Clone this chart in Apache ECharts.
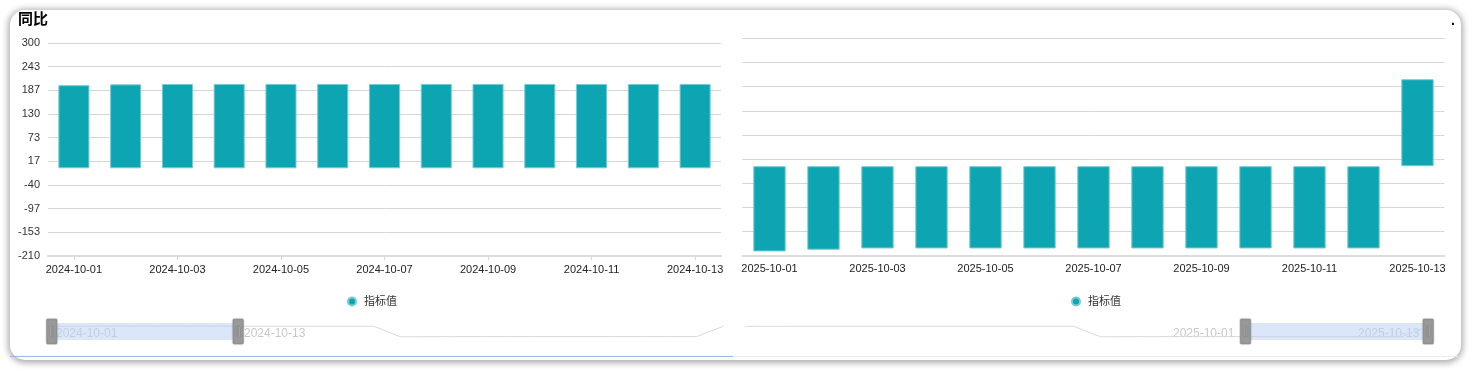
<!DOCTYPE html>
<html>
<head>
<meta charset="utf-8">
<script src="https://cdn.jsdelivr.net/npm/echarts/dist/echarts.min.js"></script>
<style>
  html, body { margin: 0; padding: 0; background: #fff; }
  body { width: 1474px; height: 371px; position: relative; overflow: hidden; }
  #card { position: absolute; left: 10px; top: 10px; width: 1451px; height: 350px; border-radius: 15px;
          background: #fff; box-shadow: 0 1px 6px 2px rgba(0,0,0,0.32); }
  #lineL { position: absolute; left: 10px; top: 356px; width: 723px; height: 1px; background: #9db6ea; }
  #lineR { position: absolute; left: 733px; top: 356px; width: 725px; height: 1px; background: #eeeeee; }
  #main { position: absolute; left: 0; top: 0; width: 1474px; height: 371px; }
</style>
</head>
<body>
<div id="card"></div>
<div id="lineL"></div>
<div id="lineR"></div>
<div id="main"></div>
<script>
// ---- data ----
const titleText = '同比';
const seriesName = '指标值';
const dates2024 = ['2024-10-01','2024-10-02','2024-10-03','2024-10-04','2024-10-05','2024-10-06','2024-10-07',
                   '2024-10-08','2024-10-09','2024-10-10','2024-10-11','2024-10-12','2024-10-13'];
const values2024 = [199, 201, 202, 202, 202, 202, 202, 202, 202, 202, 202, 202, 202];
const dates2025 = ['2025-10-01','2025-10-02','2025-10-03','2025-10-04','2025-10-05','2025-10-06','2025-10-07',
                   '2025-10-08','2025-10-09','2025-10-10','2025-10-11','2025-10-12','2025-10-13'];
const values2025 = [-200, -196, -193, -193, -193, -193, -193, -193, -193, -193, -193, -193, 204];
const yMin = -210;
const yMax = 300;
const ySplits = 9;

// combined timeline used by the zoom sliders' data shadow
const allDates = dates2024.concat(dates2025);
const allValues = values2024.concat(values2025);

const FONT = "'Liberation Sans', 'Noto Sans CJK SC', sans-serif";
const TEAL = '#0ea5b2';
const chart = echarts.init(document.getElementById('main'), null, { renderer: 'canvas' });

const handlePath = 'path://M1,0H9Q10,0 10,1V23Q10,24 9,24H1Q0,24 0,23V1Q0,0 1,0Z' +
                   'M3.4,7V17H4.3V7Z M5.7,7V17H6.6V7Z';

function yAxis(grid, showLabel) {
  return {
    type: 'value', gridIndex: grid, min: yMin, max: yMax, interval: (yMax - yMin) / ySplits,
    axisLine: { show: false }, axisTick: { show: false },
    axisLabel: { show: showLabel, color: '#333', fontSize: 11, fontFamily: FONT, margin: 8,
                 formatter: v => String(Math.round(v)) },
    splitLine: { lineStyle: { color: '#d6d6d6', width: 1 } }
  };
}
function xAxis(grid, data, ticks) {
  return {
    type: 'category', gridIndex: grid, data: data,
    axisLine: { onZero: false, lineStyle: { color: '#dcdcdc', width: 2 } },
    axisTick: { show: ticks, alignWithLabel: true, interval: 1, length: 4, lineStyle: { color: '#d6d6d6' } },
    axisLabel: { interval: 1, color: '#222', fontSize: 11, fontFamily: FONT, margin: 8 }
  };
}
function slider(axisIdx, left, width, start, end) {
  return {
    type: 'slider', xAxisIndex: axisIdx, start: start, end: end,
    left: left, width: width, top: 323, height: 17,
    showDetail: false, brushSelect: false, moveHandleSize: 0,
    moveHandleStyle: { opacity: 0 },
    backgroundColor: 'rgba(0,0,0,0)', borderColor: 'rgba(0,0,0,0)',
    fillerColor: 'rgba(190,212,242,0.55)',
    dataBackground: { lineStyle: { color: '#d9d9d9', width: 1, opacity: 1 }, areaStyle: { opacity: 0 } },
    selectedDataBackground: { lineStyle: { color: '#d9d9d9', width: 1, opacity: 1 }, areaStyle: { opacity: 0 } },
    handleIcon: handlePath, handleSize: '147%',
    handleStyle: { color: '#9a9a9a', borderColor: '#8a8a8a', borderWidth: 0.5,
                   shadowBlur: 2, shadowColor: 'rgba(0,0,0,0.25)' }
  };
}
function barSeries(xi, yi, data) {
  return {
    name: seriesName, type: 'bar', xAxisIndex: xi, yAxisIndex: yi, data: data, barWidth: '60%',
    itemStyle: { color: TEAL, borderColor: '#74cdd5', borderWidth: 1 }
  };
}
function shadowSeries(xi, yi) {
  return {
    name: 'shadow', type: 'line', xAxisIndex: xi, yAxisIndex: yi, data: allValues,
    showSymbol: false, silent: true, lineStyle: { opacity: 0 }, z: 0
  };
}
function sliderText(text, x) {
  return { type: 'text', left: x, top: 328,
           style: { text: text, fill: '#c9c9c9', font: '12px ' + FONT } };
}

chart.setOption({
  animation: false,
  title: { text: titleText, left: 13, top: 6,
           textStyle: { fontSize: 15, fontWeight: 'bold', color: '#000', fontFamily: "'Noto Sans CJK SC', sans-serif" } },
  legend: [
    { data: [seriesName], left: 342, top: 291, itemWidth: 14, itemHeight: 8, icon: 'circle',
      textStyle: { fontSize: 11, color: '#333', fontFamily: FONT } },
    { data: [seriesName], left: 1066, top: 291, itemWidth: 14, itemHeight: 8, icon: 'circle',
      textStyle: { fontSize: 11, color: '#333', fontFamily: FONT } }
  ],
  grid: [
    { left: 48, top: 43, width: 673, height: 213 },
    { left: 742.5, top: 38.3, width: 702, height: 217.4 }
  ],
  xAxis: [
    xAxis(0, dates2024, true),
    xAxis(1, dates2025, false),
    { type: 'category', gridIndex: 0, data: allDates, show: false },
    { type: 'category', gridIndex: 1, data: allDates, show: false }
  ],
  yAxis: [yAxis(0, true), yAxis(1, false)],
  dataZoom: [
    slider(2, 48.3, 672.7, 0, 28),
    slider(3, 742.5, 684.2, 73, 100)
  ],
  series: [
    barSeries(0, 0, values2024),
    barSeries(1, 1, values2025),
    shadowSeries(2, 0),
    shadowSeries(3, 1)
  ],
  graphic: [
    sliderText(dates2024[0], 56),
    sliderText(dates2024[dates2024.length - 1], 244),
    sliderText(dates2025[0], 1173),
    sliderText(dates2025[dates2025.length - 1], 1358),
    { type: 'text', left: 1451, top: 14, style: { text: '.', fill: '#000', font: 'bold 14px ' + FONT } }
  ]
});
</script>
</body>
</html>
